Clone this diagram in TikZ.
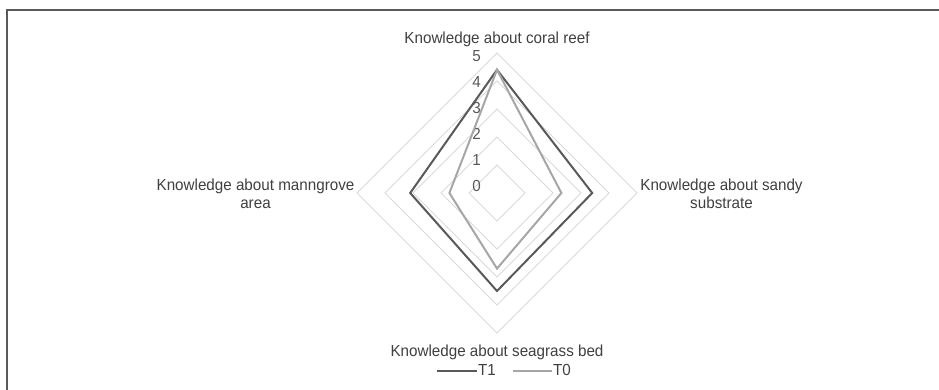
\documentclass[tikz,border=0pt]{standalone}
\usepackage{fontspec}
\setmainfont[FakeStretch=0.95]{Liberation Sans}
\definecolor{gridc}{HTML}{D9D9D9}
\definecolor{tonec}{HTML}{595959}
\definecolor{tzeroc}{HTML}{A6A6A6}
\definecolor{txtc}{HTML}{404040}
\definecolor{framec}{HTML}{5A5A5A}
\begin{document}
\begin{tikzpicture}[x=1pt,y=-1pt,
  gridline/.style={draw=gridc,line width=1pt},
  serone/.style={draw=tonec,line width=2pt,line join=miter},
  serzero/.style={draw=tzeroc,line width=2pt,line join=miter},
  lbl/.style={text=txtc,font=\fontsize{16}{18.5}\selectfont,inner sep=0pt,align=center},
  tick/.style={text=tonec,font=\fontsize{16}{18.5}\selectfont,inner sep=0pt}]
\useasboundingbox (0,0) rectangle (939,390);
% frame
\draw[framec,line width=1.5pt] (7,391) -- (7,10) -- (940,10);
% grid
\coordinate (O) at (497,193);
\foreach \r in {1,...,5}{
  \draw[gridline] (497,193-28*\r) -- (497+28*\r,193) -- (497,193+28*\r) -- (497-28*\r,193) -- cycle;
}
% tick labels
\foreach \k in {0,...,5}{
  \node[tick] (tk\k) at (476.5,186-26*\k) {\k};
}
% series
\def\sc{28}
\draw[serone] (497,193-4.4*\sc) -- (497+3.4*\sc,193) -- (497,193+3.5*\sc) -- (497-3.1*\sc,193) -- cycle;
\draw[serzero] (497,193-4.4*\sc) -- (497+2.3*\sc,193) -- (497,193+2.7*\sc) -- (497-1.7*\sc,193) -- cycle;
% axis labels
\node[lbl,anchor=base] (ltop) at (497,43.3) {Knowledge about coral reef};
\node[lbl] (lright) at (721.5,194) {Knowledge about sandy\\substrate};
\node[lbl] (lleft) at (255.5,194) {Knowledge about manngrove\\area};
\node[lbl,anchor=base] (lbot) at (497,356.5) {Knowledge about seagrass bed};
% legend
\coordinate (a1) at (437,370.7);
\coordinate (b1) at (477,370.7);
\coordinate (a0) at (513,370.7);
\coordinate (b0) at (552,370.7);
\draw[serone] (a1) -- (b1);
\node[lbl,anchor=base west] (t1) at (478,375.7) {T1};
\draw[serzero] (a0) -- (b0);
\node[lbl,anchor=base west] (t0) at (553,375.7) {T0};
\end{tikzpicture}
\end{document}
